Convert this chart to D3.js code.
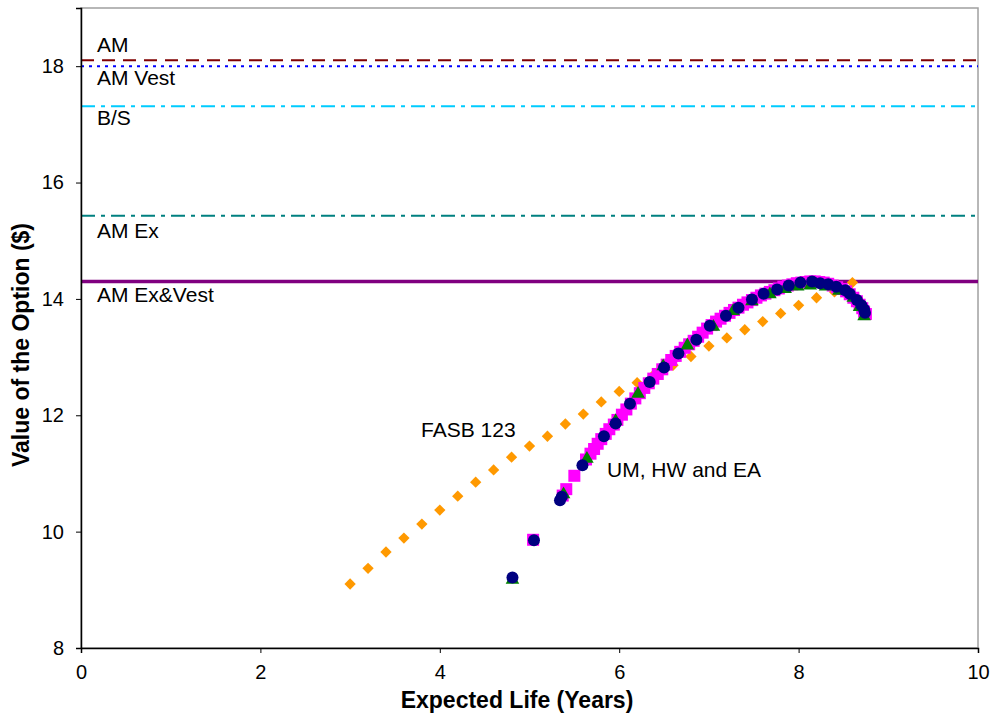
<!DOCTYPE html>
<html>
<head>
<meta charset="utf-8">
<script src="https://cdn.jsdelivr.net/npm/d3@7"></script>
<style>
  body { margin: 0; background: #fff; }
  svg { font-family: "Liberation Sans", Arial, sans-serif; }
</style>
</head>
<body>
<svg width="993" height="713"></svg>
<script>
// reference lines (value of the option)
const refNames = ["AM", "AM Vest", "B/S", "AM Ex", "AM Ex&Vest"];
const refValues = [18.1, 18.0, 17.31, 15.43, 14.3];

const xTicks = [0, 2, 4, 6, 8, 10];
const yTicks = [8, 10, 12, 14, 16, 18];

// FASB 123 (orange diamonds)
const fasbX = [3.0, 3.2, 3.4, 3.6, 3.8, 4.0, 4.2, 4.4, 4.6, 4.8, 5.0, 5.2, 5.4, 5.6, 5.8,
  6.0, 6.2, 6.4, 6.6, 6.8, 7.0, 7.2, 7.4, 7.6, 7.8, 8.0, 8.2, 8.4, 8.6];
const fasbY = [9.10, 9.37, 9.65, 9.89, 10.13, 10.37, 10.61, 10.85, 11.06, 11.28, 11.47, 11.64,
  11.85, 12.02, 12.23, 12.41, 12.56, 12.72, 12.86, 13.01, 13.19, 13.33, 13.47, 13.61, 13.75,
  13.89, 14.02, 14.12, 14.28];

// UM (magenta squares)
const umX = [5.04, 5.37, 5.41, 5.50, 5.63, 5.68, 5.72, 5.76, 5.80, 5.85, 5.89, 5.94, 5.98, 6.03,
  6.08, 6.13, 6.18, 6.23, 6.28, 6.33, 6.38, 6.43, 6.48, 6.53, 6.58, 6.63, 6.68, 6.73, 6.78, 6.83,
  6.88, 6.93, 6.98, 7.03, 7.08, 7.13, 7.18, 7.23, 7.28, 7.33, 7.38, 7.43, 7.48, 7.53, 7.58, 7.63,
  7.68, 7.73, 7.78, 7.83, 7.88, 7.93, 7.98, 8.03, 8.08, 8.13, 8.18, 8.23, 8.28, 8.33, 8.38, 8.43,
  8.48, 8.53, 8.57, 8.61, 8.65, 8.68, 8.71, 8.73, 8.75];
const umY = [9.86, 10.62, 10.73, 10.96, 11.24, 11.34, 11.42, 11.51, 11.59, 11.68, 11.76, 11.84,
  11.92, 12.01, 12.10, 12.20, 12.29, 12.38, 12.47, 12.55, 12.63, 12.71, 12.79, 12.87, 12.95, 13.02,
  13.09, 13.16, 13.22, 13.28, 13.35, 13.42, 13.49, 13.55, 13.61, 13.66, 13.71, 13.76, 13.81, 13.85,
  13.90, 13.94, 13.98, 14.02, 14.06, 14.09, 14.12, 14.15, 14.18, 14.21, 14.23, 14.25, 14.27, 14.28,
  14.29, 14.30, 14.30, 14.29, 14.28, 14.26, 14.23, 14.20, 14.17, 14.13, 14.08, 14.02, 13.96, 13.90,
  13.84, 13.78, 13.74];

// HW (green triangles)
const hwX = [4.81, 5.38, 5.64, 5.96, 6.21, 6.49, 6.76, 7.05, 7.27, 7.48, 7.68, 7.85, 7.99, 8.13,
  8.30, 8.45, 8.61, 8.68, 8.73];
const hwY = [9.17, 10.64, 11.25, 11.90, 12.37, 12.84, 13.20, 13.52, 13.79, 13.96, 14.08, 14.17,
  14.21, 14.23, 14.21, 14.14, 14.02, 13.86, 13.70];

// EA (navy circles)
const eaX = [4.81, 5.05, 5.34, 5.36, 5.59, 5.83, 5.96, 6.12, 6.34, 6.50, 6.66, 6.86, 7.01, 7.19,
  7.33, 7.48, 7.61, 7.76, 7.89, 8.02, 8.15, 8.24, 8.33, 8.42, 8.52, 8.57, 8.65, 8.70, 8.73, 8.74];
const eaY = [9.21, 9.85, 10.54, 10.60, 11.14, 11.64, 11.86, 12.20, 12.57, 12.82, 13.06, 13.30,
  13.54, 13.71, 13.85, 13.99, 14.09, 14.16, 14.23, 14.28, 14.30, 14.27, 14.25, 14.21, 14.15, 14.09,
  13.98, 13.89, 13.82, 13.76];

const refStyle = [
  { color: "#800000", width: 2, dash: "13,8" },
  { color: "#0000ff", width: 2, dash: "3,5" },
  { color: "#00ccff", width: 2, dash: "14,6,4,6" },
  { color: "#008080", width: 2, dash: "14,6,4,6" },
  { color: "#800080", width: 3.5, dash: null }
];
const refLabelY = [52, 85, 125, 238, 302];

const svg = d3.select("svg");
const plot = { left: 81, right: 978, top: 8, bottom: 648 };

const x = d3.scaleLinear().domain([0, 10]).range([plot.left, plot.right]);
const y = d3.scaleLinear().domain([8, 19]).range([plot.bottom, plot.top]);

// plot border (grey top/right)
svg.append("rect")
  .attr("x", plot.left).attr("y", plot.top)
  .attr("width", plot.right - plot.left).attr("height", plot.bottom - plot.top)
  .attr("fill", "none").attr("stroke", "#a0a0a0").attr("stroke-width", 1.5);

// reference lines
refValues.forEach((v, i) => {
  const s = refStyle[i];
  svg.append("line")
    .attr("x1", plot.left).attr("x2", plot.right)
    .attr("y1", y(v)).attr("y2", y(v))
    .attr("stroke", s.color)
    .attr("stroke-width", s.width)
    .attr("stroke-dasharray", s.dash);
  svg.append("text")
    .attr("x", 97).attr("y", refLabelY[i])
    .attr("font-size", 21)
    .text(refNames[i]);
});

const zip = (xs, ys) => xs.map((d, i) => [d, ys[i]]);

// FASB 123 diamonds
svg.append("g").selectAll("path")
  .data(zip(fasbX, fasbY))
  .enter().append("path")
  .attr("d", d3.symbol(d3.symbolSquare, 64))
  .attr("transform", d => `translate(${x(d[0])},${y(d[1])}) rotate(45)`)
  .attr("fill", "#ff9900");

// UM squares
svg.append("g").selectAll("rect")
  .data(zip(umX, umY))
  .enter().append("rect")
  .attr("x", d => x(d[0]) - 6)
  .attr("y", d => y(d[1]) - 6)
  .attr("width", 12).attr("height", 12)
  .attr("fill", "#ff00ff");

// HW triangles
svg.append("g").selectAll("path")
  .data(zip(hwX, hwY))
  .enter().append("path")
  .attr("d", d3.symbol(d3.symbolTriangle, 80))
  .attr("transform", d => `translate(${x(d[0])},${y(d[1])})`)
  .attr("fill", "#008000");

// EA circles
svg.append("g").selectAll("circle")
  .data(zip(eaX, eaY))
  .enter().append("circle")
  .attr("cx", d => x(d[0]))
  .attr("cy", d => y(d[1]))
  .attr("r", 6)
  .attr("fill", "#000080");

// axes
const xAxis = svg.append("g")
  .attr("transform", `translate(0,${plot.bottom})`)
  .call(d3.axisBottom(x).tickValues(xTicks).tickSize(5).tickPadding(12).tickFormat(d3.format("d")));
const yAxis = svg.append("g")
  .attr("transform", `translate(${plot.left},0)`)
  .call(d3.axisLeft(y).tickValues(yTicks).tickSize(5).tickPadding(12).tickFormat(d3.format("d")));

[xAxis, yAxis].forEach(g => {
  g.select(".domain").attr("stroke", "#000").attr("stroke-width", 1.5);
  g.selectAll(".tick line").attr("stroke", "#000");
  g.selectAll(".tick text")
    .attr("font-size", 20)
    .attr("font-family", "Liberation Sans, Arial, sans-serif")
    .attr("fill", "#000");
});

// series labels
svg.append("text").attr("x", 421).attr("y", 437).attr("font-size", 21).text("FASB 123");
svg.append("text").attr("x", 607).attr("y", 477).attr("font-size", 21).text("UM, HW and EA");

// axis titles
svg.append("text")
  .attr("x", 517).attr("y", 708)
  .attr("text-anchor", "middle")
  .attr("font-size", 23).attr("font-weight", "bold")
  .text("Expected Life (Years)");
svg.append("text")
  .attr("transform", "translate(29,345) rotate(-90)")
  .attr("text-anchor", "middle")
  .attr("font-size", 23).attr("font-weight", "bold")
  .text("Value of the Option ($)");
</script>
</body>
</html>
